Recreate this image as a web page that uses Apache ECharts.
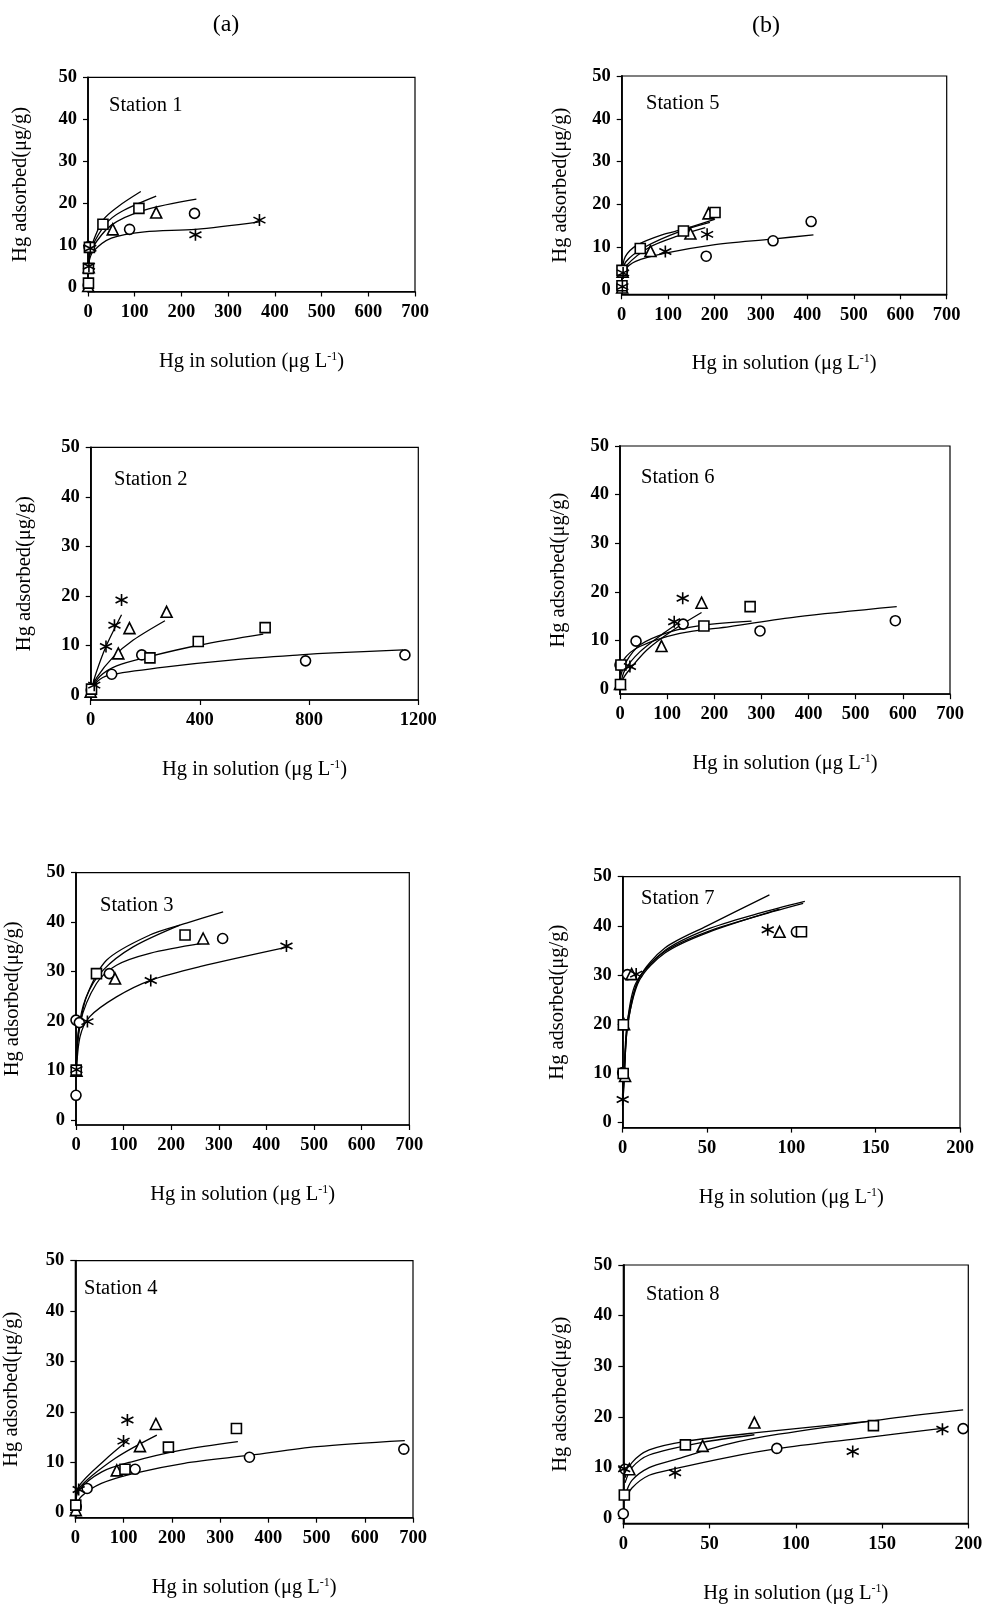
<!DOCTYPE html>
<html>
<head>
<meta charset="utf-8">
<title>Hg adsorption isotherms</title>
<script src="https://cdn.jsdelivr.net/npm/echarts@6/dist/echarts.min.js"></script>
<style>
  html, body { margin: 0; padding: 0; background: #fff; }
  #chart { width: 986px; height: 1605px; }
</style>
</head>
<body>
<div id="chart"></div>
<script>
// ---- Measured points [Hg in solution, Hg adsorbed] and fitted isotherm curves ----
const stationNames = ['Station 1', 'Station 2', 'Station 3', 'Station 4',
                      'Station 5', 'Station 6', 'Station 7', 'Station 8'];
const columnLabels = ['(a)', '(b)'];
const yTickValues = [0, 10, 20, 30, 40, 50];
const xMaxValues = [700, 1200, 700, 700, 700, 700, 200, 200];
const xStepValues = [100, 400, 100, 100, 100, 100, 50, 50];

// Station 1
const st1Circle = [[0.5, 0.5], [2, 9.7], [89, 13.8], [228, 17.6]];
const st1Triangle = [[0.5, 0.3], [1.5, 4.8], [53, 13.8], [146, 17.8]];
const st1Square = [[1, 1], [1, 4.5], [3, 9.5], [32, 15], [109, 18.8]];
const st1Star = [[2, 5], [5, 9.3], [230, 12.5], [367, 16]];
const st1CircleFit = [[0.5, 4], [2, 6.3], [7, 9], [50, 14.8], [121, 18.4], [232, 21]];
const st1TriangleFit = [[0.5, 4], [2, 6.5], [7, 9.3], [39, 15.2], [71, 18], [146, 21.7]];
const st1SquareFit = [[0.5, 4], [2, 6.8], [7, 9.7], [32, 16], [64, 19.2], [113, 22.8]];
const st1StarFit = [[0.5, 3.5], [2, 6], [10.7, 8.5], [50, 11.7], [121, 13.2], [230, 13.8], [367, 15.6]];

// Station 2
const st2Circle = [[2, 1], [77, 4.2], [187, 8.1], [787, 6.9], [1151, 8.1]];
const st2Triangle = [[0, 0.7], [101, 8.4], [142, 13.5], [278, 16.8]];
const st2Square = [[3, 1.2], [217, 7.5], [394, 10.8], [639, 13.6]];
const st2Star = [[13, 2], [56, 9.8], [87, 14.1], [113, 19.2]];
const st2CircleFit = [[1, 1.2], [34, 3.2], [83, 4.2], [278, 5.7], [523, 7.1], [767, 8.1], [889, 8.5], [1145, 9.1]];
const st2TriangleFit = [[1, 0.8], [22, 3.5], [83, 7.7], [156, 11.1], [272, 15]];
const st2SquareFit = [[1, 1], [34, 3.8], [95, 5.9], [217, 7.8], [400, 10.1], [632, 12.3]];
const st2StarFit = [[1, 0.8], [20, 4.5], [56, 9.8], [113, 16.2]];

// Station 3
const st3Circle = [[0, 5], [0, 20.2], [7, 19.7], [70, 29.6], [308, 36.7]];
const st3Triangle = [[1, 10], [82, 28.6], [267, 36.7]];
const st3Square = [[0.5, 10.1], [43, 29.6], [229, 37.4]];
const st3Star = [[1, 10.2], [24, 19.9], [157, 28.2], [442, 35.2]];
const st3CircleFit = [[0.5, 10], [5, 18], [20, 24.5], [64, 32.3], [155, 37.4], [232, 39.8], [309, 42.1]];
const st3TriangleFit = [[0.5, 10], [8.4, 19.5], [43, 27.6], [85, 31.3], [155, 33.7], [264, 35.7]];
const st3SquareFit = [[0.5, 10], [5, 16.8], [22, 24.9], [57, 30.3], [120, 35], [218, 39.4]];
const st3StarFit = [[0.5, 9], [8.4, 16.8], [29, 20.9], [85, 24.9], [155, 28.2], [260, 31], [446, 35]];

// Station 4
const st4Circle = [[2, 1.2], [24.5, 4.8], [124, 8.6], [361, 11], [681, 12.6]];
const st4Triangle = [[1, 0.5], [86, 8.4], [134, 13.2], [167, 17.6]];
const st4Square = [[1, 1.5], [103, 8.6], [193, 13], [334, 16.7]];
const st4Star = [[7, 4.6], [100, 14.2], [108, 18.4]];
const st4CircleFit = [[0.5, 1], [12.4, 3.2], [54, 5.8], [122, 7.8], [226, 9.8], [363, 11.4], [501, 13.1], [683, 14.3]];
const st4TriangleFit = [[0.5, 1.5], [7, 4.8], [83, 10.8], [169, 15.4]];
const st4SquareFit = [[0.5, 1.5], [7, 4.4], [55, 8.1], [117, 10.1], [220, 12.4], [337, 14.1]];
const st4StarFit = [[0.5, 1.5], [7, 5.2], [62, 10.5], [110, 14.4]];

// Station 5
const st5Circle = [[0.5, 0.8], [2, 4.5], [182, 7.9], [326, 11.5], [408, 16]];
const st5Triangle = [[1, 0.6], [2, 4.3], [62, 9.1], [148, 13.2], [187, 17.9]];
const st5Square = [[0.6, 1], [0.6, 4.6], [40, 9.7], [133, 13.8], [201, 18.1]];
const st5Star = [[1.5, 0.8], [3, 4], [94, 9], [184, 13]];
const st5CircleFit = [[0.5, 2.5], [5, 4.5], [30, 6.7], [94, 8.6], [194, 10.5], [324, 11.9], [413, 12.9]];
const st5TriangleFit = [[0.5, 3.5], [9, 6.6], [51, 10.1], [123, 13.6], [190, 15.8]];
const st5SquareFit = [[0.5, 4], [7.8, 7.8], [33, 10.5], [87, 12.9], [133, 14.2], [200, 16.5]];
const st5StarFit = [[0.5, 3], [11, 5.8], [60, 10], [120, 12.6], [180, 14.6]];

// Station 6
const st6Circle = [[0, 5], [34, 9.9], [134, 13.4], [297, 12], [584, 14.1]];
const st6Triangle = [[0, 1.1], [88, 8.9], [173, 17.8]];
const st6Square = [[1, 1], [2, 5], [178, 13], [276, 17]];
const st6Star = [[21, 4.7], [115, 13.9], [133, 18.7]];
const st6CircleFit = [[1, 3], [7, 6], [42, 8.8], [127, 11.5], [233, 12.9], [375, 14.9], [587, 17]];
const st6TriangleFit = [[1, 1.2], [14, 3.3], [57, 8.1], [113, 12.2], [173, 15.8]];
const st6SquareFit = [[1, 2.5], [10.6, 5.3], [42, 9.1], [106, 11.8], [177, 13.2], [279, 14]];
const st6StarFit = [[1, 1], [10.6, 4], [42, 7.7], [92, 11.5], [131, 14.1]];

// Station 7
const st7Circle = [[0, 10.2], [2.8, 30.1], [103, 38.8]];
const st7Triangle = [[1.4, 9.5], [0.8, 20], [5.3, 30.2], [93, 38.8]];
const st7Square = [[0.3, 10], [0.4, 19.9], [106, 38.8]];
const st7Star = [[0, 4.7], [8, 30.2], [86, 39.2]];
const st7CircleFit = [[0.3, 6], [1, 11], [3, 21], [8, 28.5], [25, 35], [50, 39.3], [80, 42.5], [108, 45]];
const st7TriangleFit = [[0.3, 5], [1, 10], [3, 20], [10, 29], [25, 34.5], [50, 38.6], [93, 43.4]];
const st7SquareFit = [[0.3, 6], [1, 12], [3, 21], [10, 29.5], [25, 34.8], [50, 38.8], [90, 43], [107, 44.6]];
const st7StarFit = [[0.3, 5], [1, 10], [3, 20], [10, 29.5], [25, 35.5], [50, 40], [87, 46.3]];

// Station 8
const st8Circle = [[0, 0.9], [1, 9.7], [89, 13.8], [197, 17.7]];
const st8Triangle = [[3.5, 9.7], [46, 14.3], [76, 18.9]];
const st8Square = [[0.6, 4.6], [36, 14.5], [145, 18.3]];
const st8Star = [[0.5, 9.8], [30, 9], [133, 13.2], [185, 17.6]];
const st8CircleFit = [[1, 4.5], [5, 7.5], [15, 10], [30, 11.6], [60, 14.6], [90, 16.6], [150, 19.5], [197, 21.4]];
const st8TriangleFit = [[1, 7], [5, 10], [15, 12.5], [46, 15], [76, 16.5]];
const st8SquareFit = [[1, 8], [5, 11], [15, 13.5], [36, 15.2], [80, 17], [146, 19.3]];
const st8StarFit = [[1, 3.5], [5, 6], [15, 8.5], [30, 9.8], [60, 12], [90, 13.8], [135, 15.7], [186, 17.8]];

const stationPoints = [
  [st1Circle, st1Triangle, st1Square, st1Star],
  [st2Circle, st2Triangle, st2Square, st2Star],
  [st3Circle, st3Triangle, st3Square, st3Star],
  [st4Circle, st4Triangle, st4Square, st4Star],
  [st5Circle, st5Triangle, st5Square, st5Star],
  [st6Circle, st6Triangle, st6Square, st6Star],
  [st7Circle, st7Triangle, st7Square, st7Star],
  [st8Circle, st8Triangle, st8Square, st8Star]
];
const stationFits = [
  [st1CircleFit, st1TriangleFit, st1SquareFit, st1StarFit],
  [st2CircleFit, st2TriangleFit, st2SquareFit, st2StarFit],
  [st3CircleFit, st3TriangleFit, st3SquareFit, st3StarFit],
  [st4CircleFit, st4TriangleFit, st4SquareFit, st4StarFit],
  [st5CircleFit, st5TriangleFit, st5SquareFit, st5StarFit],
  [st6CircleFit, st6TriangleFit, st6SquareFit, st6StarFit],
  [st7CircleFit, st7TriangleFit, st7SquareFit, st7StarFit],
  [st8CircleFit, st8TriangleFit, st8SquareFit, st8StarFit]
];

// ---- Page layout (pixels) ----
const panelLayout = [
  { left: 88,    top: 77.3,   width: 327,   height: 214.2, labelX: 104, labelY: 90,     xGap: 59.5, yGap: 57 },
  { left: 90.7,  top: 447.3,  width: 327.6, height: 252.7, labelX: 109, labelY: 464.5,  xGap: 59,   yGap: 55.3 },
  { left: 76,    top: 872.7,  width: 333.3, height: 252.3, labelX: 95,  labelY: 890.5,  xGap: 59,   yGap: 53.3 },
  { left: 74,    top: 1260.7, width: 339,   height: 257,   labelX: 79,  labelY: 1273.5, xGap: 59,   yGap: 53.3 },
  { left: 621.7, top: 76,     width: 325,   height: 218.3, labelX: 641, labelY: 88.5,   xGap: 58.7, yGap: 50.2 },
  { left: 620,   top: 446,    width: 330,   height: 248.2, labelX: 636, labelY: 462.5,  xGap: 58.8, yGap: 50.5 },
  { left: 622.7, top: 876.7,  width: 337.3, height: 250.9, labelX: 636, labelY: 883.5,  xGap: 59.4, yGap: 54.3 },
  { left: 623.3, top: 1265,   width: 345,   height: 259.4, labelX: 641, labelY: 1279.5, xGap: 59.6, yGap: 52.3 }
];
const columnLabelPos = [{ x: 226, y: 25 }, { x: 766, y: 26 }];

const FONT = '"Liberation Serif", "DejaVu Serif", serif';
const INK = '#000';

// Six-armed asterisk marker drawn as strokes
const starPath = 'path://M5 0 L5 10 M0.7 2.5 L9.3 7.5 M0.7 7.5 L9.3 2.5';
const markerDefs = [
  { symbol: 'circle',   size: 10, fill: '#fff' },
  { symbol: 'triangle', size: 11, fill: '#fff' },
  { symbol: 'rect',     size: 10, fill: '#fff' },
  { symbol: starPath,   size: 12, fill: INK }
];

const grids = [], xAxes = [], yAxes = [], series = [], titles = [];

const columnText = columnLabels.map((txt, i) => ({
  type: 'text',
  x: columnLabelPos[i].x, y: columnLabelPos[i].y,
  style: {
    text: txt, fill: INK, font: '24px ' + FONT,
    textAlign: 'center', textVerticalAlign: 'middle'
  }
}));

stationNames.forEach((name, i) => {
  const L = panelLayout[i];
  grids.push({
    left: L.left, top: L.top, width: L.width, height: L.height,
    show: true, borderColor: INK, borderWidth: 1.2, backgroundColor: 'transparent'
  });
  xAxes.push({
    type: 'value', gridIndex: i, min: 0, max: xMaxValues[i], interval: xStepValues[i],
    name: 'Hg in solution (μg L{sup|-1})',
    nameLocation: 'middle', nameGap: L.xGap,
    nameTextStyle: {
      fontFamily: FONT, fontSize: 20.5, color: INK,
      rich: { sup: { fontFamily: FONT, fontSize: 12, color: INK, verticalAlign: 'top', padding: [0, 0, 9, 0] } }
    },
    axisLine: { show: true, onZero: false, lineStyle: { color: INK, width: 1.5 } },
    axisTick: { show: true, inside: false, length: 5, lineStyle: { color: INK, width: 1.2 } },
    axisLabel: { fontFamily: FONT, fontSize: 18.5, fontWeight: 'bold', color: INK, margin: 11,
                 formatter: v => String(v) },
    splitLine: { show: false }
  });
  yAxes.push({
    type: 'value', gridIndex: i, min: -1, max: 50,
    name: 'Hg adsorbed(μg/g)',
    nameLocation: 'middle', nameGap: L.yGap, nameRotate: 90,
    nameTextStyle: { fontFamily: FONT, fontSize: 20.5, color: INK },
    axisLine: { show: true, onZero: false, lineStyle: { color: INK, width: 1.8 } },
    axisTick: { show: true, inside: false, length: 5, customValues: yTickValues, lineStyle: { color: INK, width: 1.2 } },
    axisLabel: { fontFamily: FONT, fontSize: 18.5, fontWeight: 'bold', color: INK, margin: 11,
                 customValues: yTickValues, formatter: v => String(v) },
    splitLine: { show: false }
  });
  titles.push({
    text: name, left: L.labelX, top: L.labelY,
    textStyle: { fontFamily: FONT, fontSize: 20.5, fontWeight: 'normal', color: INK }
  });

  // fitted isotherms
  stationFits[i].forEach((pts) => {
    series.push({
      type: 'line', xAxisIndex: i, yAxisIndex: i, data: pts,
      smooth: 0.3, showSymbol: false, symbol: 'none',
      lineStyle: { color: INK, width: 1.3 }, z: 2, silent: true
    });
  });
  // measured points
  stationPoints[i].forEach((pts, k) => {
    const m = markerDefs[k];
    series.push({
      type: 'scatter', xAxisIndex: i, yAxisIndex: i, data: pts,
      symbol: m.symbol, symbolSize: m.size, clip: false,
      itemStyle: { color: m.fill, borderColor: INK, borderWidth: 1.6, opacity: 1 },
      z: 5, silent: true
    });
  });
});

const chart = echarts.init(document.getElementById('chart'), null, { renderer: 'canvas' });
chart.setOption({
  animation: false,
  backgroundColor: '#fff',
  title: titles,
  graphic: columnText,
  grid: grids,
  xAxis: xAxes,
  yAxis: yAxes,
  series: series
});
</script>
</body>
</html>
